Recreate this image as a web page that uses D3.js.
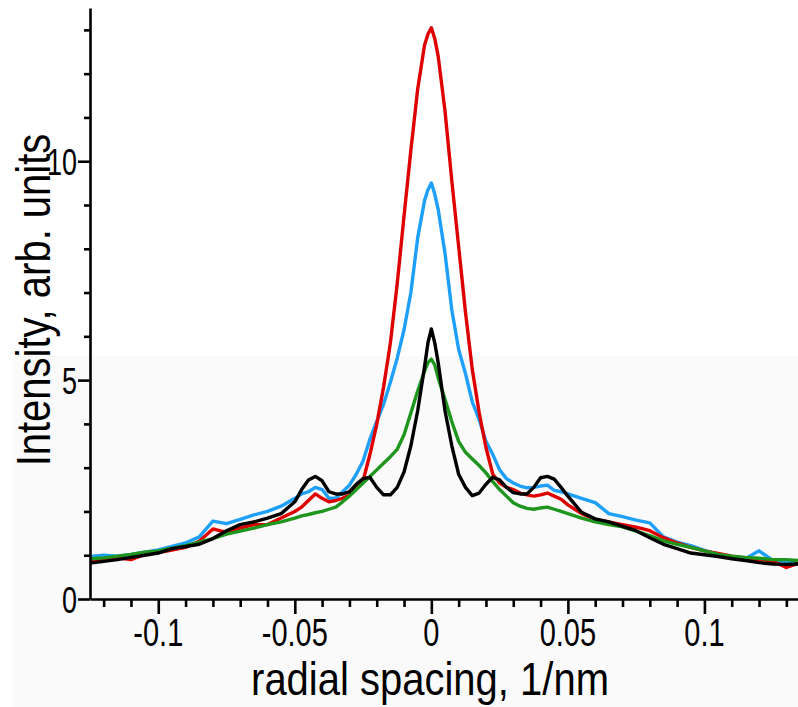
<!DOCTYPE html>
<html><head><meta charset="utf-8">
<script src="https://cdn.jsdelivr.net/npm/d3@7"></script>
<style>html,body{margin:0;padding:0;background:#fff;}svg{display:block;}</style>
</head><body>
<svg id="chart" width="798" height="707"></svg>
<script>
const xValues = [-0.125,-0.12,-0.115,-0.11,-0.105,-0.1,-0.095,-0.09,-0.085,-0.08,-0.075,-0.07,-0.065,-0.06,-0.055,
 -0.05,-0.0475,-0.045,-0.0425,-0.04,-0.0375,-0.035,-0.0325,-0.03,-0.0275,-0.025,-0.0225,-0.02,-0.0175,-0.015,-0.0125,-0.01,-0.0075,-0.005,-0.0025,-0.00125,
 0,
 0.00125,0.0025,0.005,0.0075,0.01,0.0125,0.015,0.0175,0.02,0.0225,0.025,0.0275,0.03,0.0325,0.035,0.0375,0.04,0.0425,0.045,0.0475,
 0.05,0.055,0.06,0.065,0.07,0.075,0.08,0.085,0.09,0.095,0.1,0.105,0.11,0.115,0.12,0.125,0.13,0.1345];

const redValues = [0.88,0.92,0.94,0.90,1.02,1.06,1.12,1.18,1.32,1.60,1.52,1.62,1.70,1.70,1.85,
 2.00,2.10,2.25,2.40,2.30,2.22,2.25,2.30,2.38,2.55,2.70,3.30,3.99,4.84,5.85,7.20,8.75,10.25,11.65,12.65,12.90,
 13.05,
 12.80,12.40,11.15,9.55,8.05,6.55,5.24,4.26,3.46,2.85,2.65,2.55,2.50,2.42,2.38,2.35,2.38,2.42,2.35,2.28,
 2.15,1.95,1.82,1.76,1.70,1.64,1.56,1.40,1.28,1.18,1.10,1.04,0.98,0.93,0.90,0.87,0.72,0.82];

const blueValues = [0.97,1.00,0.98,1.02,1.07,1.12,1.20,1.28,1.42,1.78,1.72,1.82,1.92,2.00,2.12,
 2.30,2.40,2.45,2.55,2.50,2.30,2.30,2.45,2.60,2.85,3.15,3.65,4.05,4.45,4.95,5.50,6.15,7.00,8.25,9.10,9.35,
 9.50,
 9.25,8.90,7.90,6.60,5.70,5.15,4.50,4.10,3.60,3.30,2.95,2.75,2.65,2.58,2.54,2.55,2.58,2.60,2.48,2.45,
 2.40,2.30,2.20,1.95,1.88,1.80,1.74,1.42,1.30,1.22,1.11,1.02,0.96,0.92,1.10,0.88,0.86,0.86];

const greenValues = [0.92,0.94,0.98,1.02,1.07,1.10,1.16,1.22,1.30,1.38,1.48,1.55,1.62,1.70,1.76,
 1.85,1.90,1.93,1.97,2.00,2.05,2.10,2.22,2.35,2.50,2.65,2.80,2.95,3.10,3.25,3.42,3.75,4.25,4.75,5.20,5.40,
 5.48,
 5.35,5.05,4.56,4.05,3.60,3.35,3.20,3.05,2.88,2.68,2.50,2.35,2.20,2.12,2.07,2.05,2.08,2.10,2.05,2.00,
 1.95,1.85,1.76,1.70,1.65,1.55,1.45,1.33,1.25,1.18,1.10,1.02,0.98,0.95,0.93,0.90,0.90,0.88];

const blackValues = [0.82,0.86,0.90,0.95,1.00,1.05,1.15,1.20,1.25,1.38,1.56,1.70,1.76,1.85,1.95,
 2.22,2.50,2.72,2.80,2.70,2.45,2.40,2.40,2.45,2.62,2.75,2.78,2.55,2.38,2.38,2.55,2.90,3.50,4.30,5.30,5.85,
 6.17,
 5.85,5.40,4.30,3.50,2.85,2.55,2.36,2.42,2.62,2.78,2.72,2.55,2.43,2.40,2.40,2.55,2.77,2.80,2.74,2.55,
 2.35,1.98,1.83,1.76,1.66,1.56,1.40,1.25,1.15,1.05,1.01,0.97,0.92,0.88,0.83,0.80,0.79,0.80];

const seriesNames = ["blue","red","green","black"];
const seriesColors = {red:"#de0000", blue:"#1ea0fa", green:"#1e961e", black:"#000000"};
const seriesData = {red:redValues, blue:blueValues, green:greenValues, black:blackValues};

const xMajorTicks = [-0.1,-0.05,0,0.05,0.1];
const xMajorLabels = ["-0.1","-0.05","0","0.05","0.1"];
const xMinorTicks = [-0.12,-0.11,-0.09,-0.08,-0.07,-0.06,-0.04,-0.03,-0.02,-0.01,0.01,0.02,0.03,0.04,0.06,0.07,0.08,0.09,0.11,0.12,0.13];
const yMajorTicks = [0,5,10];
const yMajorLabels = ["0","5","10"];
const yMinorTicks = [1,2,3,4,6,7,8,9,11,12,13];

const xTitle = "radial spacing, 1/nm";
const yTitle = "Intensity, arb. units";

const svg = d3.select("#chart");
const font = "'Liberation Sans', Arial, sans-serif";

// faint grey background block (as in reference)
svg.append("rect").attr("x",12).attr("y",356).attr("width",786).attr("height",351).attr("fill","#fafafa");

const x = d3.scaleLinear().domain([-0.125, 0.135]).range([90, 800]);
const y = d3.scaleLinear().domain([0, 13.5]).range([599, 8]);

const line = d3.line().x((d,i)=>x(xValues[i])).y(d=>y(d));
const plot = svg.append("g");
seriesNames.forEach(n=>{
  plot.append("path").datum(seriesData[n]).attr("d",line)
    .attr("fill","none").attr("stroke",seriesColors[n]).attr("stroke-width",3.4)
    .attr("stroke-linejoin","round");
});

function styleAxis(g){
  g.select(".domain").attr("stroke","#000").attr("stroke-width",2.6);
  g.selectAll(".tick line").attr("stroke","#000").attr("stroke-width",2.6);
}

// x axis
const gxMinor = svg.append("g").attr("transform","translate(0,599)")
  .call(d3.axisBottom(x).tickValues(xMinorTicks).tickSize(8).tickFormat(""));
styleAxis(gxMinor); gxMinor.select(".domain").remove();
const gx = svg.append("g").attr("transform","translate(0,599)")
  .call(d3.axisBottom(x).tickValues(xMajorTicks).tickSize(15).tickSizeOuter(0).tickFormat(""));
styleAxis(gx);
svg.append("g").selectAll("text").data(xMajorTicks).join("text")
  .attr("transform",d=>`translate(${x(d)},646) scale(1,1.32)`)
  .attr("text-anchor","middle").attr("font-family",font).attr("font-size",29).attr("fill","#000")
  .text((d,i)=>xMajorLabels[i]);

// y axis
const gyMinor = svg.append("g").attr("transform","translate(90,0)")
  .call(d3.axisLeft(y).tickValues(yMinorTicks).tickSize(6).tickFormat(""));
styleAxis(gyMinor); gyMinor.select(".domain").remove();
const gy = svg.append("g").attr("transform","translate(90,0)")
  .call(d3.axisLeft(y).tickValues(yMajorTicks).tickSize(12).tickSizeOuter(0).tickFormat(""));
styleAxis(gy);
svg.append("g").selectAll("text").data(yMajorTicks).join("text")
  .attr("transform",d=>`translate(77,${y(d)+13.5}) scale(1,1.35)`)
  .attr("text-anchor","end").attr("font-family",font).attr("font-size",27).attr("fill","#000")
  .text((d,i)=>yMajorLabels[i]);

svg.append("text").attr("transform","translate(430,695) scale(1,1.15)").attr("text-anchor","middle")
  .attr("font-family",font).attr("font-size",40).attr("fill","#000").text(xTitle);
svg.append("text").attr("transform","translate(50,300) rotate(-90) scale(1,1.2)").attr("text-anchor","middle")
  .attr("font-family",font).attr("font-size",40).attr("fill","#000").text(yTitle);
</script>
</body></html>
